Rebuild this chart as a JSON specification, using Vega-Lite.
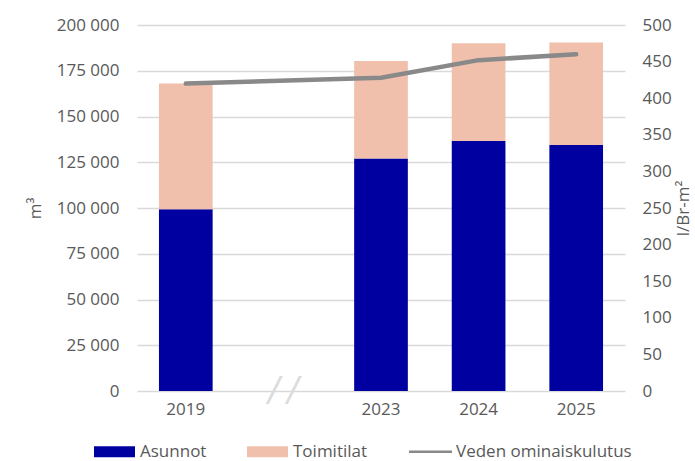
{
  "$schema": "https://vega.github.io/schema/vega-lite/v6.json",
  "width": 488,
  "height": 366,
  "autosize": {"type": "none"},
  "padding": {"left": 137, "top": 25, "right": 70, "bottom": 70},
  "config": {
    "font": "Open Sans",
    "view": {"stroke": null},
    "axis": {"labelColor": "#595959", "titleColor": "#595959", "labelFontSize": 17, "titleFontSize": 17, "titleFontWeight": "normal", "ticks": false, "domain": false}
  },
  "datasets": {
    "volumes": [
      {"year": "2019", "series": "Asunnot", "value": 99300},
      {"year": "2019", "series": "Toimitilat", "value": 68800},
      {"year": "2023", "series": "Asunnot", "value": 127000},
      {"year": "2023", "series": "Toimitilat", "value": 53300},
      {"year": "2024", "series": "Asunnot", "value": 136600},
      {"year": "2024", "series": "Toimitilat", "value": 53400},
      {"year": "2025", "series": "Asunnot", "value": 134400},
      {"year": "2025", "series": "Toimitilat", "value": 56100}
    ],
    "specific": [
      {"year": "2019", "series": "Veden ominaiskulutus", "value": 420},
      {"year": "2023", "series": "Veden ominaiskulutus", "value": 428},
      {"year": "2024", "series": "Veden ominaiskulutus", "value": 452},
      {"year": "2025", "series": "Veden ominaiskulutus", "value": 460}
    ],
    "breaks": [
      {"year": "gap", "mark": "/"}
    ]
  },
  "encoding": {
    "x": {
      "field": "year",
      "type": "nominal",
      "scale": {"domain": ["2019", "gap", "2023", "2024", "2025"], "paddingInner": 0.45, "paddingOuter": 0.225},
      "axis": {"title": null, "labelAngle": 0, "labelPadding": 10, "labelExpr": "datum.value == 'gap' ? '' : datum.value"}
    }
  },
  "layer": [
    {
      "layer": [
        {
          "data": {"name": "volumes"},
          "mark": {"type": "bar"},
          "encoding": {
            "y": {
              "field": "value",
              "type": "quantitative",
              "stack": "zero",
              "scale": {"domain": [0, 200000]},
              "axis": {
                "title": "m³",
                "values": [0, 25000, 50000, 75000, 100000, 125000, 150000, 175000, 200000],
                "labelExpr": "replace(format(datum.value, ','), ',', ' ')",
                "labelPadding": 18,
                "titlePadding": 12,
                "grid": true,
                "gridColor": "#d9d9d9",
                "gridWidth": 1.3
              }
            },
            "color": {
              "field": "series",
              "type": "nominal",
              "scale": {"domain": ["Asunnot", "Toimitilat", "Veden ominaiskulutus"], "range": ["#0000A0", "#F0C0AD", "#898989"]},
              "legend": {
                "title": null,
                "orient": "none",
                "direction": "horizontal",
                "legendX": -43,
                "legendY": 406,
                "symbolSize": 1681,
                "labelFontSize": 17,
                "labelColor": "#595959",
                "labelLimit": 400,
                "labelOffset": 5,
                "columnPadding": 40,
                "encode": {
                  "symbols": {
                    "update": {
                      "shape": {"signal": "datum.value == 'Veden ominaiskulutus' ? 'M-1.05,-0.055h2.1v0.11h-2.1Z' : 'M-1,-0.27h2v0.54h-2Z'"},
                      "fill": {"scale": "color", "field": "value"},
                      "stroke": {"value": "transparent"},
                      "strokeWidth": {"value": 0},
                      "opacity": {"value": 1}
                    }
                  }
                }
              }
            },
            "order": {"field": "series", "sort": "ascending"}
          }
        },
        {
          "data": {"name": "breaks"},
          "mark": {"type": "text", "fontSize": 34, "font": "DejaVu Sans", "fontStyle": "italic", "color": "#dcdcdc", "baseline": "middle", "dx": -9.5},
          "encoding": {
            "y": {"datum": 0, "type": "quantitative"},
            "text": {"field": "mark"}
          }
        },
        {
          "data": {"name": "breaks"},
          "mark": {"type": "text", "fontSize": 34, "font": "DejaVu Sans", "fontStyle": "italic", "color": "#dcdcdc", "baseline": "middle", "dx": 9.5},
          "encoding": {
            "y": {"datum": 0, "type": "quantitative"},
            "text": {"field": "mark"}
          }
        }
      ]
    },
    {
      "data": {"name": "specific"},
      "mark": {"type": "line", "strokeWidth": 4.5, "strokeCap": "round", "strokeJoin": "round"},
      "encoding": {
        "y": {
          "field": "value",
          "type": "quantitative",
          "scale": {"domain": [0, 500]},
          "axis": {
            "orient": "right",
            "title": "l/Br-m²",
            "titleAngle": 270,
            "titleBaseline": "top",
            "values": [0, 50, 100, 150, 200, 250, 300, 350, 400, 450, 500],
            "labelPadding": 17,
            "titlePadding": 4,
            "grid": false
          }
        },
        "color": {"field": "series", "type": "nominal"}
      }
    }
  ],
  "resolve": {"scale": {"y": "independent"}}
}
